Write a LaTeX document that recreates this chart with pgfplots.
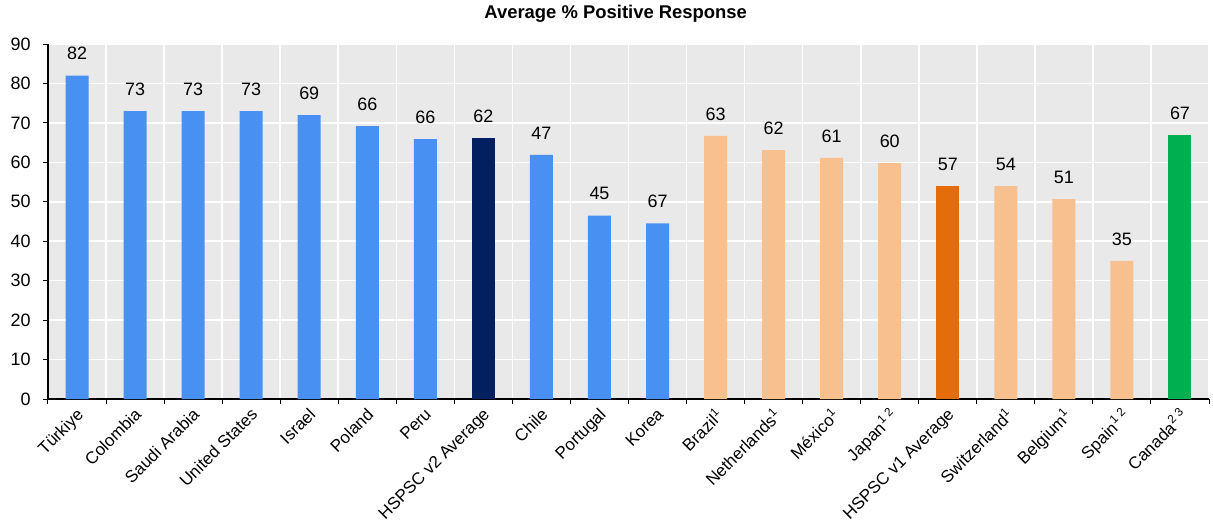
\documentclass[border=0pt]{standalone}
\usepackage{fontspec}
\setmainfont{Liberation Sans}
\usepackage{pgfplots}
\pgfplotsset{compat=1.18}
\usepackage{pgfplotstable}
\usetikzlibrary{calc}
\definecolor{cblue}{RGB}{72,145,243}
\definecolor{cnavy}{RGB}{0,32,96}
\definecolor{cpeach}{RGB}{249,192,143}
\definecolor{corange}{RGB}{228,108,10}
\definecolor{cgreen}{RGB}{0,176,80}
\definecolor{bggray}{RGB}{233,233,233}

\pgfplotstableread{
x y lab
0 82 82
1 73 73
2 73 73
3 73 73
4 72 69
5 69.2 66
6 65.9 66
8 61.9 47
9 46.5 45
10 44.5 67
}\blueT
\pgfplotstableread{
x y lab
7 66.2 62
}\navyT
\pgfplotstableread{
x y lab
11 66.7 63
12 63.1 62
13 61.1 61
14 59.8 60
16 54.0 54
17 50.7 51
18 35.0 35
}\peachT
\pgfplotstableread{
x y lab
15 54.0 57
}\orangeT
\pgfplotstableread{
x y lab
19 66.9 67
}\greenT

\begin{document}
\begin{tikzpicture}
\begin{axis}[
  scale only axis, width=1161bp, height=355bp,
  xmin=-0.5, xmax=19.5, ymin=0, ymax=90,
  ytick={0,10,...,90},
  xtick={0,...,19},
  xticklabels={T\"urkiye, Colombia, Saudi Arabia, United States, Israel, Poland, Peru, HSPSC v2 Average, Chile, Portugal, Korea, Brazil\textsuperscript{1}, Netherlands\textsuperscript{1}, M\'exico\textsuperscript{1}, Japan\textsuperscript{1 2}, HSPSC v1 Average, Switzerland\textsuperscript{1}, Belgium\textsuperscript{1}, Spain\textsuperscript{1 2}, Canada\textsuperscript{2 3}},
  minor xtick={-0.5,0.5,...,19.5},
  axis x line*=bottom, axis y line*=left,
  axis line style={black, line width=1.2bp, -},
  tick align=outside,
  major x tick style={draw=none},
  major tick length=5bp, minor tick length=5bp,
  tick style={black, line width=1bp},
  ymajorgrids, xminorgrids,
  grid style={white, line width=1.6bp},
  minor grid style={white, line width=1.6bp},
  axis background/.style={fill=bggray},
  /pgf/number format/assume math mode=true,
  yticklabel style={font=\fontsize{18}{18}\selectfont, xshift=-9bp},
  xticklabel style={font=\fontsize{17}{17}\selectfont, rotate=45, anchor=north east, inner sep=0pt, xshift=-3bp, yshift=-1bp},
  title={Average \% Positive Response},
  title style={at={(rel axis cs:0.489,1)}, anchor=base, yshift=20bp, font=\bfseries\fontsize{18.5}{18.5}\selectfont},
  point meta=explicit symbolic,
  nodes near coords,
  every node near coord/.append style={font=\fontsize{18}{18}\selectfont, anchor=center, yshift=22bp, black},
]
\addplot[ybar, bar shift=0pt, bar width=23bp, fill=cblue, draw=none] table[x=x,y=y,meta=lab]{\blueT};
\addplot[ybar, bar shift=0pt, bar width=23bp, fill=cnavy, draw=none] table[x=x,y=y,meta=lab]{\navyT};
\addplot[ybar, bar shift=0pt, bar width=23bp, fill=cpeach, draw=none] table[x=x,y=y,meta=lab]{\peachT};
\addplot[ybar, bar shift=0pt, bar width=23bp, fill=corange, draw=none] table[x=x,y=y,meta=lab]{\orangeT};
\addplot[ybar, bar shift=0pt, bar width=23bp, fill=cgreen, draw=none] table[x=x,y=y,meta=lab]{\greenT};
\coordinate (ll) at (rel axis cs:0,0);
\coordinate (ur) at (rel axis cs:1,1);
\end{axis}
\pgfresetboundingbox
\path[use as bounding box] ($(ll)+(-48bp,-123bp)$) rectangle ($(ur)+(4bp,44bp)$);
\end{tikzpicture}
\end{document}
